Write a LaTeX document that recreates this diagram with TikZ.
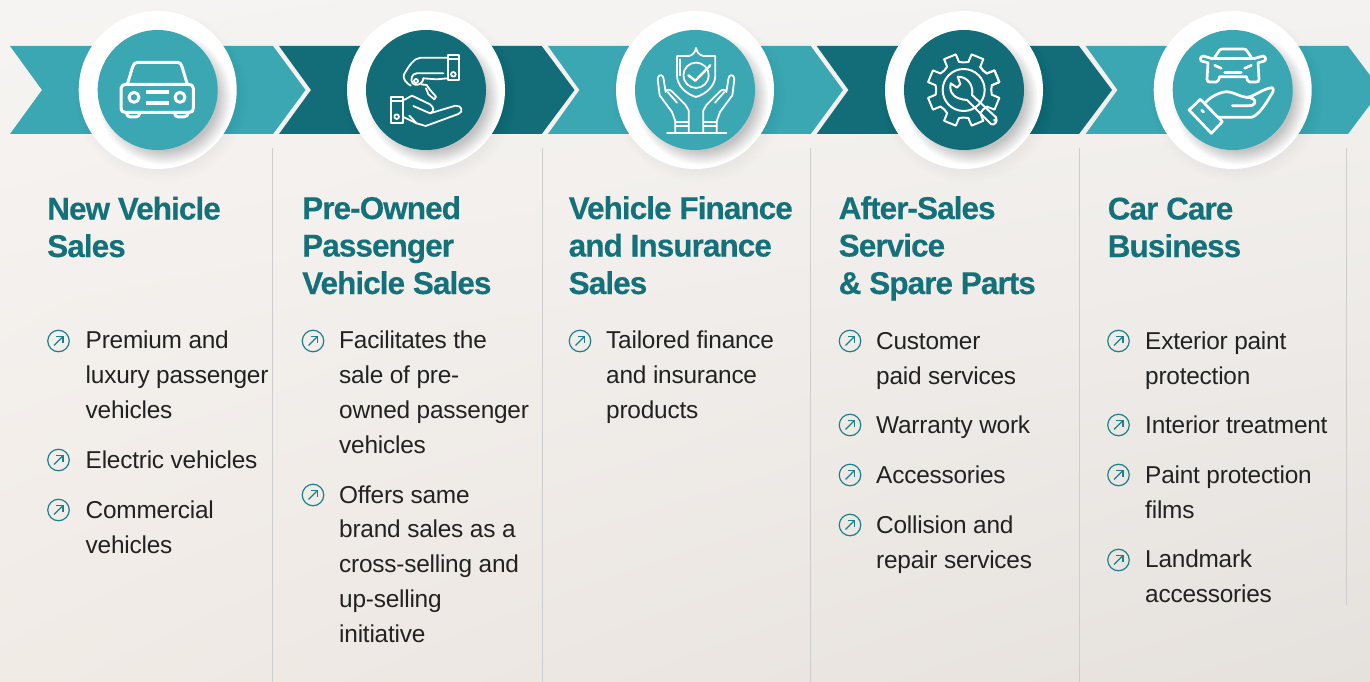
\documentclass[tikz,border=0pt]{standalone}
\usepackage{fontspec}
\usetikzlibrary{shadings}
\setmainfont{Liberation Sans}[LetterSpace=-0.9]
\newfontfamily\headfont{Liberation Sans Bold}[LetterSpace=-3,FakeBold=0.35]
\definecolor{lteal}{HTML}{3AA7B3}
\definecolor{dteal}{HTML}{136D78}
\definecolor{headc}{HTML}{14717A}
\definecolor{bodyc}{HTML}{222222}
\definecolor{rulec}{HTML}{CDCDCD}
\definecolor{bulc}{HTML}{1F7F88}
\definecolor{bgul}{HTML}{F6F4F2}
\definecolor{bgur}{HTML}{F4F2F0}
\definecolor{bgll}{HTML}{F1EBE6}
\definecolor{bglr}{HTML}{E5E1DD}
\newcommand{\badge}[3]{%
  \foreach \k in {0,...,11}{\fill[black,opacity=.005] (#2+4,96) circle[radius=79+8-1.5*\k];}
  \node[ring] (ring#1) at (#2,90) {};
  \foreach \k in {0,...,14}{\fill[black,opacity=.017] (#2+7,98) circle[radius=53+\k];}
  \node[disc,fill=#3] (disc#1) at (#2,90) {};
}
\newcommand{\bul}[3]{%
  \node[bulnode] (#1) at (#2,#3) {};
  \draw[bularrow] (#2-4.4,#3+4.4) -- (#2+4.2,#3-4.2);
  \draw[bularrow] (#2-2.2,#3-4.4) -- (#2+4.4,#3-4.4) -- (#2+4.4,#3+2.2);
}
\tikzset{
  ring/.style={circle,fill=white,minimum size=158pt,inner sep=0pt},
  disc/.style={circle,minimum size=120pt,inner sep=0pt},
  bulnode/.style={circle,draw=bulc,line width=1.2pt,minimum size=21.5pt,inner sep=0pt},
  bularrow/.style={draw=bulc,line width=1.2pt},
  head/.style={anchor=base west,inner sep=0pt,align=left,text=headc,font=\fontsize{31.5}{37.5}\selectfont\headfont},
  item/.style={anchor=base west,inner sep=0pt,align=left,text=bodyc,font=\fontsize{24.4}{34.7}\selectfont},
  rulel/.style={draw=rulec,line width=1.5pt},
  icon/.style={draw=white,line width=3pt,line join=round,line cap=round},
  thin icon/.style={draw=white,line width=1.8pt,line join=round,line cap=round},
  zoom at/.style={shift={#1},x=0.33333pt,y=-0.33333pt}
}
\begin{document}
\begin{tikzpicture}[x=1pt,y=-1pt]
\useasboundingbox (0,0) rectangle (1370,682);
\clip (0,0) rectangle (1370,682);
\shade[upper left=bgul,upper right=bgur,lower left=bgll,lower right=bglr] (0,0) rectangle (1370,682);
% rules
\foreach \x in {272.5,542.5,810.5,1079.5}{\draw[rulel] (\x,148) -- (\x,682);}
\draw[rulel] (1346.5,148) -- (1346.5,605);
% chevrons
\fill[lteal] (10,46) -- (273,46) -- (305.5,90) -- (273,134) -- (10,134) -- (42,90) -- cycle;
\fill[dteal] (279,46) -- (541.7,46) -- (574.5,90) -- (541.7,134) -- (279,134) -- (311,90) -- cycle;
\fill[lteal] (548,46) -- (810.7,46) -- (843,90) -- (810.7,134) -- (548,134) -- (579.5,90) -- cycle;
\fill[dteal] (816.7,46) -- (1079,46) -- (1112,90) -- (1079,134) -- (816.7,134) -- (848.5,90) -- cycle;
\fill[lteal] (1085.7,46) -- (1348,46) -- (1381,90) -- (1348,134) -- (1085.7,134) -- (1117.5,90) -- cycle;
% badges
\badge{1}{157.7}{lteal}
\badge{2}{426}{dteal}
\badge{3}{695}{lteal}
\badge{4}{964}{dteal}
\badge{5}{1232.7}{lteal}
% icon 1: car
\begin{scope}[zoom at={(110,45)},icon]
\draw (33,130) .. controls (33,122) and (40,118) .. (48,118) -- (236,118) .. controls (244,118) and (250,122) .. (250,130) -- (250,190) .. controls (250,198) and (246,202) .. (238,202) -- (45,202) .. controls (38,202) and (33,198) .. (33,190) -- cycle;
\draw (52,118) -- (68,65) .. controls (70,58) and (76,52) .. (82,52) -- (204,52) .. controls (210,52) and (214,58) .. (216,65) -- (232,118);
\draw (50,202) .. controls (50,212) and (55,216) .. (62,216) -- (76,216) .. controls (84,216) and (89,212) .. (89,202);
\draw (194,202) .. controls (194,212) and (199,216) .. (206,216) -- (220,216) .. controls (228,216) and (234,212) .. (234,202);
\draw (72,157) circle[radius=15];
\draw (210,157) circle[radius=15];
\draw[line width=4pt,line cap=butt] (108,142) -- (177,142);
\draw[line width=4pt,line cap=butt] (108,173) -- (177,173);
\end{scope}
% icon 2: key and hands
\begin{scope}[zoom at={(380,45)},thin icon]
\draw (203,30) -- (238,30) -- (238,105) -- (203,105) -- cycle;
\draw (203,42) -- (238,42);
\draw (220,88) circle[radius=7];
\draw (203,38) -- (122,38) .. controls (100,40) and (88,62) .. (72,88) .. controls (66,100) and (80,115) .. (92,122);
\draw (203,100) -- (170,103) -- (130,100);
\draw (190,85) -- (110,85) .. controls (95,85) and (90,105) .. (98,115) .. controls (106,123) and (122,120) .. (128,108) -- (130,100);
\draw (108,108) circle[radius=6];
\draw (124,118) -- (140,120) -- (148,132) -- (168,155) -- (163,163) -- (145,148) -- (138,130);
\draw (33,155) -- (68,155) -- (68,235) -- (33,235) -- cycle;
\draw (33,167) -- (68,167);
\draw (50,215) circle[radius=7];
\draw (68,165) .. controls (78,165) and (85,155) .. (96,152) -- (150,178) .. controls (162,186) and (164,200) .. (150,205) -- (100,183);
\draw (150,205) -- (226,182) .. controls (245,180) and (252,200) .. (235,207) -- (137,243) -- (110,235) -- (88,212);
\draw (68,215) -- (110,235);
\end{scope}
% icon 3: shield and hands
\begin{scope}[zoom at={(647,42)},thin icon]
\draw (90,42) -- (125,42) .. controls (137,40) and (144,32) .. (147,18) .. controls (150,32) and (157,40) .. (170,42) -- (205,42) -- (205,100) .. controls (205,130) and (180,155) .. (147,165) .. controls (115,155) and (90,130) .. (90,100) -- cycle;
\draw (100,52) -- (100,100);
\draw (174,73) arc[start angle=-45,end angle=-400,radius=38];
\draw[line width=2.4pt] (124,100) -- (145,116) -- (190,70);
\foreach \s/\o in {1/0,-1/294}{
  \begin{scope}[xshift=\o*0.33333pt,xscale=\s]
  \draw (32,112) .. controls (32,95) and (50,95) .. (50,112) -- (56,150) .. controls (60,140) and (68,142) .. (75,148) -- (115,188) -- (125,205) -- (125,270);
  \draw (32,112) -- (38,160) -- (75,210) -- (85,238) -- (85,270);
  \draw (62,150) -- (90,182);
  \draw (85,240) -- (125,240);
  \draw (85,252) -- (125,252);
  \end{scope}
}
\draw (60,272) -- (238,272);
\end{scope}
% icon 4: gear and wrench
\begin{scope}[shift={(963.7,90)},thin icon,line width=2pt]
\foreach \a in {22.5,67.5,...,382.5}{
  \draw (\a-13:28.5pt) -- (\a-10:36.5pt) -- (\a+10:36.5pt) -- (\a+13:28.5pt) -- (\a+22.5:27.5pt) -- (\a+32:28.5pt);
}
\end{scope}
\begin{scope}[zoom at={(917,45)},thin icon,line width=2pt]
\draw (140,135) circle[radius=63];
\draw (122,95) -- (130,117) -- (120,128) -- (101,115) .. controls (96,135) and (104,152) .. (125,160) .. controls (135,163) and (143,165) .. (150,165) -- (222,237) .. controls (230,243) and (245,230) .. (237,217) -- (165,150) .. controls (170,125) and (155,95) .. (122,95) -- cycle;
\draw (233,226) circle[radius=2];
\end{scope}
% icon 5: car over hand
\begin{scope}[zoom at={(1183,40)},icon,line width=2.7pt]
\draw (95,52) -- (110,30) .. controls (112,28) and (115,27) .. (120,27) -- (180,27) .. controls (185,27) and (188,28) .. (190,30) -- (205,52);
\draw (85,55) -- (215,55);
\draw (85,55) -- (60,48) .. controls (50,50) and (50,62) .. (58,64) -- (75,68) -- (72,118) .. controls (72,124) and (76,126) .. (80,126) -- (100,126) .. controls (106,126) and (108,118) .. (110,110) -- (190,110) .. controls (192,118) and (194,126) .. (200,126) -- (220,126) .. controls (224,126) and (228,124) .. (228,118) -- (225,68) -- (242,64) .. controls (250,62) and (250,50) .. (240,48) -- (215,55);
\draw (95,76) -- (115,85);
\draw (205,76) -- (185,85);
\draw (125,97) -- (175,97);
\draw (18,210) -- (52,178) -- (118,245) -- (85,280) -- cycle;
\draw (56,211) -- (62,216);
\draw (65,190) .. controls (80,172) and (105,158) .. (130,155) .. controls (150,155) and (170,170) .. (190,172) .. controls (210,172) and (240,145) .. (268,143) .. controls (274,148) and (270,158) .. (262,168) .. controls (250,190) and (225,228) .. (205,232) -- (105,232);
\draw (190,172) .. controls (205,172) and (220,178) .. (215,190) .. controls (212,197) and (205,197) .. (195,197) -- (148,197);
\end{scope}
% headings
\node[head] (h1) at (47,257) {New Vehicle\\Sales};
\node[head] (h2) at (302,294) {Pre-Owned\\Passenger\\Vehicle Sales};
\node[head] (h3) at (568.5,294) {Vehicle Finance\\and Insurance\\Sales};
\node[head] (h4) at (838.5,294) {After-Sales\\Service\\\& Spare Parts};
\node[head] (h5) at (1107.5,257) {Car Care\\Business};
% column 1
\bul{b11}{58.5}{341}\node[item] (t11) at (85.5,418) {Premium and\\luxury passenger\\vehicles};
\bul{b12}{58.5}{460}\node[item] (t12) at (85.5,468) {Electric vehicles};
\bul{b13}{58.5}{510}\node[item] (t13) at (85.5,553) {Commercial\\vehicles};
% column 2
\bul{b21}{313}{341}\node[item] (t21) at (339,453) {Facilitates the\\sale of pre-\\owned passenger\\vehicles};
\bul{b22}{313}{495}\node[item] (t22) at (339,642) {Offers same\\brand sales as a\\cross-selling and\\up-selling\\initiative};
% column 3
\bul{b31}{580}{341}\node[item] (t31) at (606,418) {Tailored finance\\and insurance\\products};
% column 4
\bul{b41}{850}{341}\node[item] (t41) at (876,384) {Customer\\paid services};
\bul{b42}{850}{425}\node[item] (t42) at (876,433) {Warranty work};
\bul{b43}{850}{475}\node[item] (t43) at (876,483) {Accessories};
\bul{b44}{850}{525}\node[item] (t44) at (876,568) {Collision and\\repair services};
% column 5
\bul{b51}{1118.5}{341}\node[item] (t51) at (1145,384) {Exterior paint\\protection};
\bul{b52}{1118.5}{425}\node[item] (t52) at (1145,433) {Interior treatment};
\bul{b53}{1118.5}{475}\node[item] (t53) at (1145,518) {Paint protection\\films};
\bul{b54}{1118.5}{560}\node[item] (t54) at (1145,602) {Landmark\\accessories};
\end{tikzpicture}
\end{document}
